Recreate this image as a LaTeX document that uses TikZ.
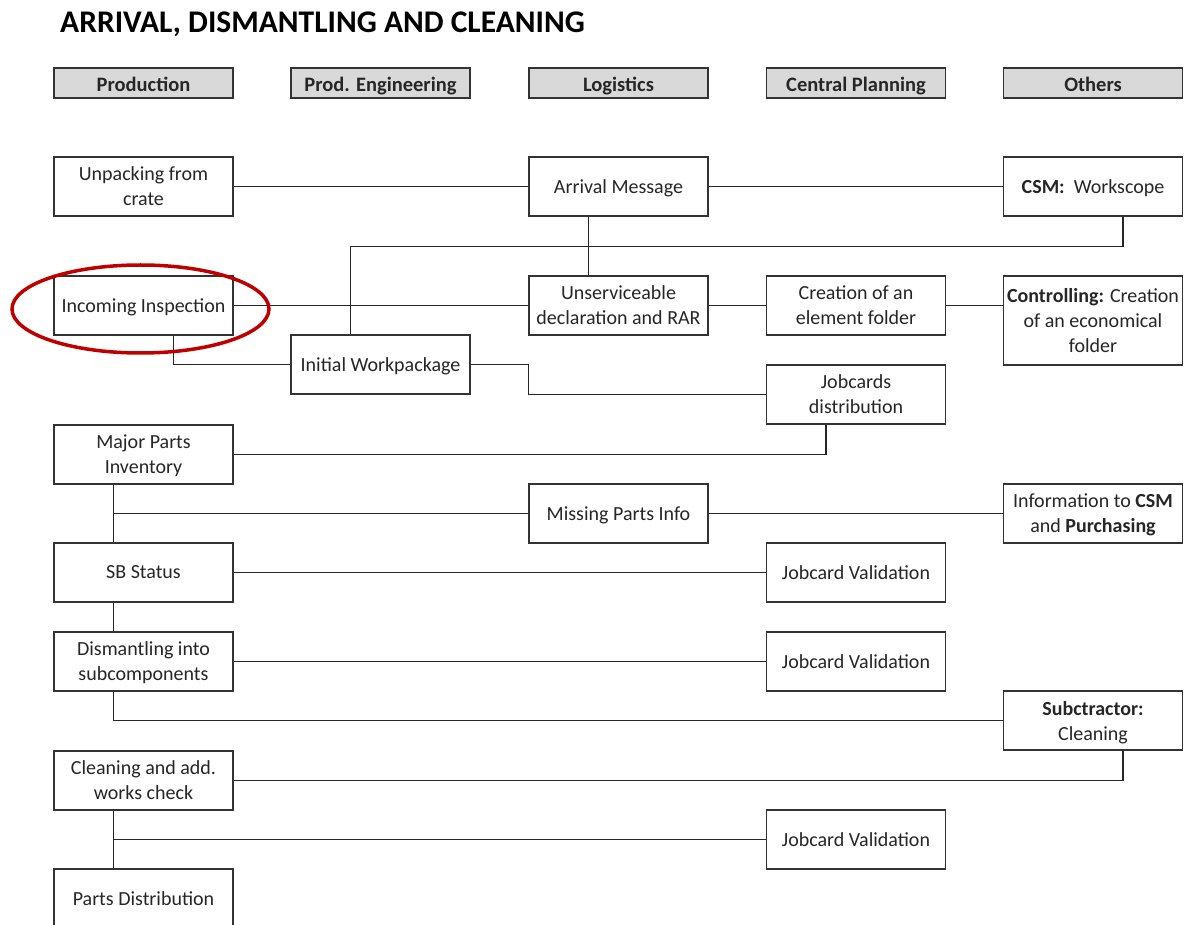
\documentclass[tikz,border=0pt]{standalone}
\usepackage{fontspec}
\setmainfont{Carlito}
\usetikzlibrary{positioning}

\begin{document}
\begin{tikzpicture}[
    x=1pt, y=-1pt,
    box/.style={
        draw=black!80, line width=1.3pt, fill=white, align=center,
        minimum width=179pt, minimum height=59pt, inner sep=0pt,
        text depth=0pt,
        font=\fontsize{20}{25}\selectfont, text=black!85,
    },
    head/.style={
        box, fill=gray!30, minimum height=30pt,
        text height=17pt, text depth=0pt,
        font=\fontsize{20.5}{24}\selectfont\bfseries,
    },
    link/.style={draw=black!85, line width=1.3pt},
    mark ring/.style={draw=red!75!black, line width=3.5pt},
]
\useasboundingbox (0,0) rectangle (1184,925);

% --- Title and departments ---------------------------------
\node[anchor=base west, inner sep=0pt, font=\fontsize{31.5}{36}\selectfont\bfseries] (title)
    at (60,33) {ARRIVAL, DISMANTLING AND CLEANING};
\node[head] (hprod) at (143.5,83) {Production};
\node[head] (hpe)   at (380.5,83) {Prod. Engineering};
\node[head] (hlog)  at (618.5,83) {Logistics};
\node[head] (hcp)   at (856,83)   {Central Planning};
\node[head] (hoth)  at (1093,83)  {Others};

% --- Process boxes -----------------------------------------
\node[box] (unpack)   at (143.5,186.5) {Unpacking from\\crate};
\node[box] (arrival)  at (618.5,186.5) {Arrival Message};
\node[box] (csm)      at (1093,186.5)  {\textbf{CSM:}\ \ Workscope};
\node[box] (incoming) at (143.5,305.5) {Incoming Inspection};
\node[box] (unserv)   at (618.5,305.5) {Unserviceable\\declaration and RAR};
\node[box] (elem)     at (856,305.5)   {Creation of an\\element folder};
\node[box, minimum height=89pt] (ctrl) at (1093,320.5)
    {\textbf{Controlling:} Creation\\of an economical\\folder};
\node[box] (initwp)   at (380.5,364.5) {Initial Workpackage};
\node[box] (jobdist)  at (856,394.5)   {Jobcards\\distribution};
\node[box] (major)    at (143.5,454.5) {Major Parts\\Inventory};
\node[box] (missing)  at (618.5,513.5) {Missing Parts Info};
\node[box] (info)     at (1093,513.5)  {Information to \textbf{CSM}\\and \textbf{Purchasing}};
\node[box] (sb)       at (143.5,572.5) {SB Status};
\node[box] (valid1)   at (856,572.5)   {Jobcard Validation};
\node[box] (dism)     at (143.5,661.5) {Dismantling into\\subcomponents};
\node[box] (valid2)   at (856,661.5)   {Jobcard Validation};
\node[box] (sub)      at (1093,720.5)  {\textbf{Subctractor:}\\Cleaning};
\node[box] (clean)    at (143.5,780.5) {Cleaning and add.\\works check};
\node[box] (valid3)   at (856,839.5)   {Jobcard Validation};
\node[box] (parts)    at (143.5,898.5) {Parts Distribution};

% --- Trunk points on the left column -----------------------
\coordinate (trunkA) at ([xshift=-30pt]major.south);
\coordinate (trunkB) at ([xshift=-30pt]clean.south);

% --- Connectors --------------------------------------------
\draw[link] (unpack) -- (arrival);
\draw[link] (arrival) -- (csm);
\draw[link] ([xshift=-30pt]arrival.south) -- ([xshift=-30pt]unserv.north);
\draw[link] ([xshift=30pt]csm.south) -- ++(0,30) -| ([xshift=-30pt]initwp.north);
\draw[link] (incoming) -- (unserv);
\draw[link] ([xshift=30pt]incoming.south) |- (initwp.west);
\draw[link] (unserv) -- (elem);
\draw[link] (elem.east) -- (elem.east -| ctrl.west);
\draw[link] (initwp.east) -- (initwp.east -| unserv.west) |- (jobdist.west);
\draw[link] ([xshift=-30pt]jobdist.south) |- (major.east);
\draw[link] (trunkA) -- ([xshift=-30pt]sb.north);
\draw[link] (trunkA |- missing.west) -- (missing.west);
\draw[link] (missing) -- (info);
\draw[link] (sb) -- (valid1);
\draw[link] ([xshift=-30pt]sb.south) -- ([xshift=-30pt]dism.north);
\draw[link] (dism) -- (valid2);
\draw[link] ([xshift=-30pt]dism.south) |- (sub.west);
\draw[link] ([xshift=30pt]sub.south) |- (clean.east);
\draw[link] (trunkB) -- ([xshift=-30pt]parts.north);
\draw[link] (trunkB |- valid3.west) -- (valid3.west);

% --- Highlight ---------------------------------------------
\draw[mark ring] (140.5,309) ellipse [x radius=128.5pt, y radius=44pt];

\end{tikzpicture}
\end{document}
